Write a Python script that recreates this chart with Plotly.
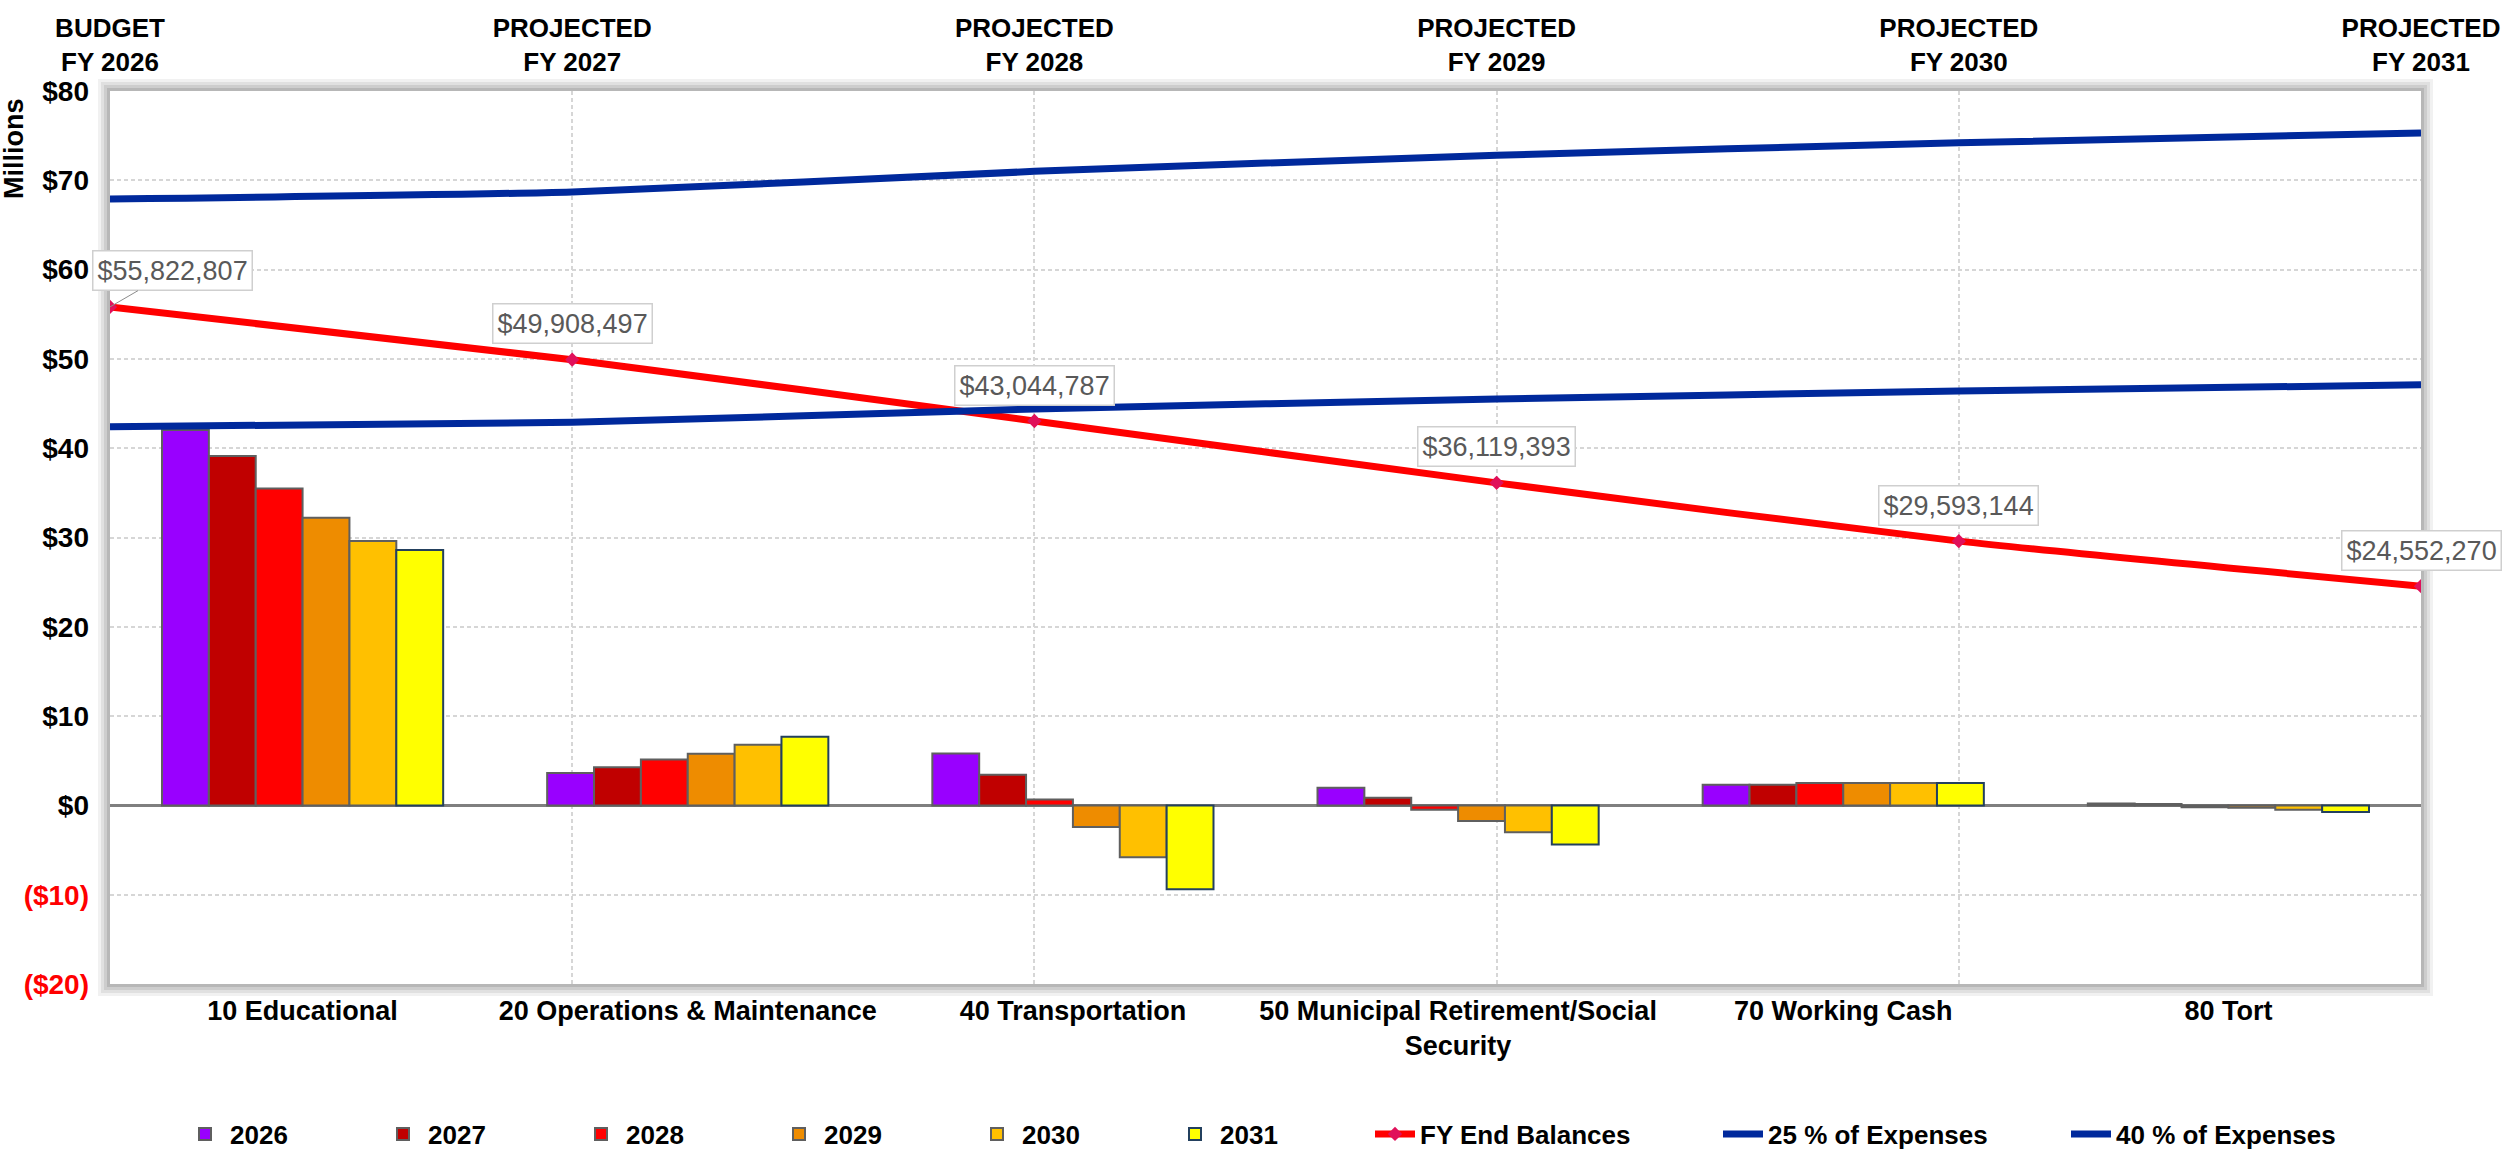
import plotly.graph_objects as go

# ---- data (amounts in millions of dollars unless noted) ----
funds = [
    "10 Educational",
    "20 Operations & Maintenance",
    "40 Transportation",
    "50 Municipal Retirement/Social<br>Security",
    "70 Working Cash",
    "80 Tort",
]
years = ["2026", "2027", "2028", "2029", "2030", "2031"]

fund_2026 = [42.05, 3.64, 5.80, 1.98, 2.32, 0.20]
fund_2027 = [39.14, 4.28, 3.44, 0.86, 2.32, 0.15]
fund_2028 = [35.50, 5.13, 0.67, -0.49, 2.50, -0.20]
fund_2029 = [32.20, 5.78, -2.43, -1.76, 2.50, -0.25]
fund_2030 = [29.60, 6.80, -5.80, -3.00, 2.50, -0.50]
fund_2031 = [28.60, 7.70, -9.40, -4.37, 2.50, -0.75]
fund_values = [fund_2026, fund_2027, fund_2028, fund_2029, fund_2030, fund_2031]

fiscal_years = [
    "BUDGET<br>FY 2026",
    "PROJECTED<br>FY 2027",
    "PROJECTED<br>FY 2028",
    "PROJECTED<br>FY 2029",
    "PROJECTED<br>FY 2030",
    "PROJECTED<br>FY 2031",
]
fy_end_balances = [55822807, 49908497, 43044787, 36119393, 29593144, 24552270]  # dollars
pct25_expenses = [42.4, 42.9, 44.4, 45.5, 46.4, 47.1]
pct40_expenses = [67.9, 68.7, 71.0, 72.8, 74.2, 75.3]

y_ticks = [-20, -10, 0, 10, 20, 30, 40, 50, 60, 70, 80]

# ---- styling ----
bar_colors = ["#9900FF", "#C00000", "#FF0000", "#EE8C00", "#FFC000", "#FFFF00"]
bar_lines = ["#5f5f5f", "#5f5f5f", "#5f5f5f", "#5f5f5f", "#5f5f5f", "#23405e"]
BLUE = "#00299C"
RED = "#FF0000"
SANS = "Liberation Sans, Arial, sans-serif"

W, H = 2509, 1152
ML, MR, MT, MB = 110, 88, 91, 168
PW, PH = W - ML - MR, H - MT - MB

fig = go.Figure()

for yr, vals, col, lc in zip(years, fund_values, bar_colors, bar_lines):
    fig.add_trace(go.Bar(
        x=funds, y=vals, name=yr,
        marker=dict(color=col, line=dict(color=lc, width=2)),
        legend="legend",
    ))

pos = list(range(len(fiscal_years)))
balances_m = [v / 1e6 for v in fy_end_balances]

fig.add_trace(go.Scatter(
    x=pos, y=balances_m, xaxis="x2", yaxis="y", name="FY End Balances",
    mode="lines+markers", line=dict(color=RED, width=7, shape="spline", smoothing=0.6),
    marker=dict(symbol="diamond", size=11, color="#E0105A"),
    legend="legend2",
))
fig.add_trace(go.Scatter(
    x=pos, y=pct25_expenses, xaxis="x2", yaxis="y", name="25 % of Expenses",
    mode="lines", line=dict(color=BLUE, width=7, shape="spline", smoothing=0.6),
    legend="legend2",
))
fig.add_trace(go.Scatter(
    x=pos, y=pct40_expenses, xaxis="x2", yaxis="y", name="40 % of Expenses",
    mode="lines", line=dict(color=BLUE, width=7, shape="spline", smoothing=0.6),
    legend="legend2",
))

# value call-outs on the balance line
annotations = []
for i, (p, v) in enumerate(zip(pos, fy_end_balances)):
    txt = "${:,.0f}".format(v)
    common = dict(
        x=p, y=v / 1e6, xref="x2", yref="y", text=txt,
        font=dict(family=SANS, size=27, color="#595959"),
        bgcolor="white", bordercolor="#cfcfcf", borderwidth=1.5, borderpad=4,
    )
    if i == 0:
        annotations.append(dict(common, showarrow=True, arrowhead=0, arrowwidth=1,
                                arrowcolor="#8c8c8c", ax=62, ay=-36, standoff=0))
    else:
        annotations.append(dict(common, showarrow=False, yshift=36))

# rotated axis unit label
annotations.append(dict(
    x=-96 / PW, y=0.935, xref="paper", yref="paper", text="Millions",
    textangle=-90, showarrow=False, xanchor="center", yanchor="middle",
    font=dict(family=SANS, size=27, color="black", weight="bold"),
))

# soft frame shadow + white plotting surface
shapes = []
for k, op in zip([12, 9, 6, 3], [0.10, 0.14, 0.18, 0.25]):
    shapes.append(dict(
        type="rect", xref="paper", yref="paper", layer="below",
        x0=-k / PW, x1=1 + k / PW, y0=-k / PH, y1=1 + k / PH,
        fillcolor=f"rgba(120,120,120,{op})", line=dict(width=0),
    ))
shapes.append(dict(
    type="rect", xref="paper", yref="paper", layer="below",
    x0=0, x1=1, y0=0, y1=1, fillcolor="white", line=dict(width=0),
))

tick_text = []
for t in y_ticks:
    if t < 0:
        tick_text.append(f'<span style="color:#FF0000">(${-t})</span>')
    else:
        tick_text.append(f"${t}")

legend_font = dict(family=SANS, size=26, color="black", weight="bold")
legend_y = (MB - 150) / PH - MB / PH  # centre of the legend row below the plot

fig.update_layout(
    width=W, height=H,
    margin=dict(l=ML, r=MR, t=MT, b=MB, autoexpand=False),
    paper_bgcolor="white", plot_bgcolor="rgba(0,0,0,0)",
    barmode="group", bargap=0.27, bargroupgap=0,
    font=dict(family=SANS, color="black"),
    xaxis=dict(
        type="category", range=[-0.5, 5.5], showgrid=False, zeroline=False,
        showline=False, ticks="", ticklabelstandoff=8, automargin=False,
        tickfont=dict(family=SANS, size=27, color="black", weight="bold"),
    ),
    xaxis2=dict(
        overlaying="x", side="top", range=[0, 5], tickmode="array",
        tickvals=pos, ticktext=fiscal_years, showgrid=True, griddash="4px,3px",
        gridcolor="#d6d6d6", gridwidth=1.5, zeroline=False, showline=False,
        ticks="", ticklabelstandoff=14, automargin=False,
        tickfont=dict(family=SANS, size=26, color="black", weight="bold"),
    ),
    yaxis=dict(
        range=[-20, 80], tickmode="array", tickvals=y_ticks, ticktext=tick_text,
        showgrid=True, griddash="4px,3px", gridcolor="#d6d6d6", gridwidth=1.5,
        zeroline=True, zerolinecolor="#7f7f7f", zerolinewidth=2.5,
        showline=False, ticks="", ticklabelstandoff=20, automargin=False,
        tickfont=dict(family=SANS, size=28, color="black", weight="bold"),
    ),
    legend=dict(
        orientation="h", x=(180 - ML) / PW, xanchor="left", y=legend_y, yanchor="middle",
        entrywidth=143, entrywidthmode="pixels", font=legend_font,
        itemwidth=40, tracegroupgap=0, bgcolor="rgba(0,0,0,0)",
    ),
    legend2=dict(
        orientation="h", x=(1370 - ML) / PW, xanchor="left", y=legend_y, yanchor="middle",
        entrywidth=293, entrywidthmode="pixels", font=legend_font,
        itemwidth=40, tracegroupgap=0, bgcolor="rgba(0,0,0,0)",
    ),
    annotations=annotations,
    shapes=shapes,
    showlegend=True,
)

fig.write_html("out.html")
